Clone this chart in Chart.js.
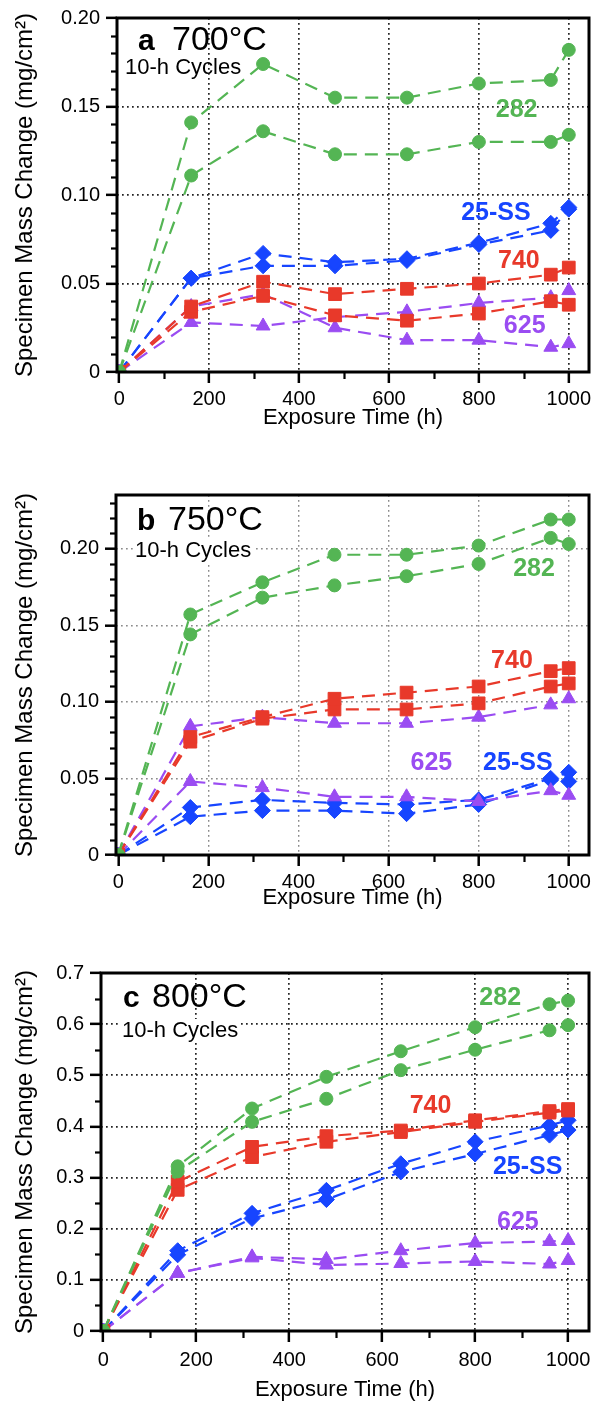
<!DOCTYPE html>
<html lang="en">
<head>
    <meta charset="UTF-8">
    <title>Specimen Mass Change vs Exposure Time</title>
    <script src="https://cdn.jsdelivr.net/npm/chart.js"></script>
    <style>
        body {
            margin: 0;
            background: #fff;
        }
        canvas {
            position: absolute;
            left: 0;
        }
    </style>
</head>
<body>
    <canvas id="chartA" width="599" height="440" style="top:0"></canvas>
    <canvas id="chartB" width="599" height="460" style="top:460px"></canvas>
    <canvas id="chartC" width="599" height="470" style="top:940px"></canvas>

    <script>
        // Exposure times (h) and axis ticks
        const hours = [0, 160, 320, 480, 640, 800, 960, 1000];
        const xTicks = [0, 200, 400, 600, 800, 1000];
        const yTicksA = [0, 0.05, 0.10, 0.15, 0.20];
        const yTicksB = [0, 0.05, 0.10, 0.15, 0.20];
        const yTicksC = [0, 0.1, 0.2, 0.3, 0.4, 0.5, 0.6, 0.7];

        // 700°C (mg/cm2), two specimens per alloy
        const a282_1 = [0, 0.141, 0.174, 0.155, 0.155, 0.163, 0.165, 0.182];
        const a282_2 = [0, 0.111, 0.136, 0.123, 0.123, 0.130, 0.130, 0.134];
        const a25ss_1 = [0, 0.053, 0.067, 0.062, 0.064, 0.073, 0.084, 0.093];
        const a25ss_2 = [0, 0.053, 0.060, 0.060, 0.063, 0.072, 0.080, 0.092];
        const a740_1 = [0, 0.037, 0.051, 0.044, 0.047, 0.050, 0.055, 0.059];
        const a740_2 = [0, 0.034, 0.043, 0.032, 0.029, 0.033, 0.040, 0.038];
        const a625_1 = [0, 0.028, 0.026, 0.031, 0.034, 0.039, 0.042, 0.046];
        const a625_2 = [0, 0.037, 0.044, 0.025, 0.018, 0.018, 0.014, 0.016];

        // 750°C
        const b282_1 = [0, 0.157, 0.178, 0.196, 0.196, 0.202, 0.219, 0.219];
        const b282_2 = [0, 0.144, 0.168, 0.176, 0.182, 0.190, 0.207, 0.203];
        const b740_1 = [0, 0.077, 0.090, 0.102, 0.106, 0.110, 0.120, 0.122];
        const b740_2 = [0, 0.074, 0.089, 0.095, 0.095, 0.099, 0.110, 0.112];
        const b625_1 = [0, 0.084, 0.090, 0.086, 0.086, 0.090, 0.098, 0.102];
        const b625_2 = [0, 0.048, 0.044, 0.038, 0.038, 0.035, 0.042, 0.039];
        const b25ss_1 = [0, 0.031, 0.036, 0.034, 0.033, 0.036, 0.050, 0.054];
        const b25ss_2 = [0, 0.025, 0.029, 0.029, 0.027, 0.033, 0.049, 0.048];

        // 800°C
        const c282_1 = [0, 0.322, 0.435, 0.497, 0.547, 0.594, 0.639, 0.646];
        const c282_2 = [0, 0.312, 0.409, 0.454, 0.510, 0.550, 0.588, 0.598];
        const c740_1 = [0, 0.292, 0.360, 0.381, 0.392, 0.412, 0.430, 0.434];
        const c740_2 = [0, 0.276, 0.340, 0.370, 0.389, 0.409, 0.427, 0.431];
        const c25ss_1 = [0, 0.157, 0.230, 0.275, 0.327, 0.370, 0.402, 0.412];
        const c25ss_2 = [0, 0.149, 0.220, 0.257, 0.311, 0.346, 0.383, 0.393];
        const c625_1 = [0, 0.113, 0.145, 0.140, 0.157, 0.172, 0.175, 0.177];
        const c625_2 = [0, 0.113, 0.143, 0.129, 0.132, 0.136, 0.131, 0.138];

        const FONT = "'Liberation Sans', Arial, Helvetica, sans-serif";
        Chart.defaults.font.family = FONT;
        Chart.defaults.color = '#000';

        // lower order = drawn on top
        const alloyStyle = {
            '282':   { color: '#54b554', point: 'circle',   radius: 6.5, order: 0 },
            '740':   { color: '#e8392a', point: 'rect',     radius: 9,   order: 1 },
            '625':   { color: '#9a4cf2', point: 'triangle', radius: 8,   order: 2 },
            '25-SS': { color: '#1745ff', point: 'rectRot',  radius: 8,   order: 3 }
        };

        function isMajor(v, list) {
            return list.some(t => Math.abs(t - v) < 1e-9);
        }

        function makePanel(canvasId, cfg) {
            const decor = {
                id: 'decor',
                afterDatasetsDraw(chart) {
                    const { ctx, chartArea: a } = chart;
                    const xs = chart.scales.x;
                    const ys = chart.scales.y;
                    ctx.save();
                    ctx.strokeStyle = '#000';

                    // short minor ticks
                    ctx.lineWidth = 2.2;
                    for (let i = 1; i * cfg.yMinor < ys.max + 1e-9; i++) {
                        const v = i * cfg.yMinor;
                        if (isMajor(v, cfg.yTicks)) continue;
                        const py = Math.round(ys.getPixelForValue(v)) + 0.5;
                        ctx.beginPath();
                        ctx.moveTo(a.left - 6, py);
                        ctx.lineTo(a.left, py);
                        ctx.stroke();
                    }
                    for (let v = 100; v < 1000; v += 200) {
                        const px = Math.round(xs.getPixelForValue(v)) + 0.5;
                        ctx.beginPath();
                        ctx.moveTo(px, a.bottom);
                        ctx.lineTo(px, a.bottom + 7);
                        ctx.stroke();
                    }

                    // frame round the plot
                    ctx.lineWidth = 3;
                    ctx.strokeRect(a.left, a.top, a.right - a.left, a.bottom - a.top);

                    // panel heading
                    const h = cfg.header;
                    ctx.textAlign = 'left';
                    ctx.textBaseline = 'alphabetic';
                    ctx.font = '22px ' + FONT;
                    if (h.cyclesBg) {
                        const w = ctx.measureText('10-h Cycles').width;
                        ctx.fillStyle = '#fff';
                        ctx.fillRect(a.left + h.cyclesX - 2, a.top + h.cyclesY - 18, w + 4, 23);
                    }
                    ctx.fillStyle = '#000';
                    ctx.fillText('10-h Cycles', a.left + h.cyclesX, a.top + h.cyclesY);
                    ctx.font = 'bold 30px ' + FONT;
                    ctx.fillText(cfg.letter, a.left + h.letterX, a.top + h.baseY);
                    ctx.font = '34px ' + FONT;
                    ctx.fillText(cfg.temp, a.left + h.tempX, a.top + h.baseY);

                    // alloy names
                    ctx.font = 'bold 25px ' + FONT;
                    ctx.textAlign = 'center';
                    ctx.textBaseline = 'middle';
                    cfg.labels.forEach(l => {
                        ctx.fillStyle = alloyStyle[l.alloy].color;
                        ctx.fillText(l.alloy, xs.getPixelForValue(l.x), ys.getPixelForValue(l.y));
                    });
                    ctx.restore();
                }
            };

            const datasets = cfg.series.map(s => {
                const st = alloyStyle[s.alloy];
                return {
                    label: s.alloy,
                    data: hours.map((t, i) => ({ x: t, y: s.values[i] })),
                    borderColor: st.color,
                    backgroundColor: st.color,
                    pointBackgroundColor: st.color,
                    pointBorderColor: st.color,
                    pointBorderWidth: 1,
                    pointStyle: st.point,
                    pointRadius: st.radius,
                    borderWidth: 2.2,
                    borderDash: [13, 8],
                    order: st.order,
                    tension: 0,
                    fill: false
                };
            });

            const gridColor = c => (c.tick && c.tick.value > 0) ? cfg.gridColor : 'rgba(0,0,0,0)';

            return new Chart(document.getElementById(canvasId), {
                type: 'line',
                data: { datasets },
                plugins: [decor],
                options: {
                    responsive: false,
                    animation: false,
                    layout: { padding: { top: cfg.top, right: 2, left: 0, bottom: 0 } },
                    plugins: {
                        legend: { display: false },
                        tooltip: { enabled: false }
                    },
                    scales: {
                        x: {
                            type: 'linear',
                            min: -5,
                            max: 1045,
                            afterBuildTicks: s => { s.ticks = xTicks.map(v => ({ value: v })); },
                            afterFit: s => { s.height = cfg.xAxisHeight; },
                            border: { display: false, dash: [1.7, 3.3] },
                            grid: {
                                color: gridColor,
                                lineWidth: cfg.gridWidth,
                                tickLength: 11,
                                tickWidth: 2.5,
                                tickColor: '#000'
                            },
                            ticks: {
                                font: { size: 20 },
                                padding: cfg.xLabelPad,
                                maxRotation: 0,
                                autoSkip: false,
                                callback: v => String(v)
                            },
                            title: {
                                display: true,
                                text: 'Exposure Time (h)',
                                font: { size: 22 },
                                padding: { top: 0, bottom: cfg.xTitlePad }
                            }
                        },
                        y: {
                            min: 0,
                            max: cfg.yMax,
                            afterBuildTicks: s => { s.ticks = cfg.yTicks.map(v => ({ value: v })); },
                            afterFit: s => { s.width = cfg.left; },
                            border: { display: false, dash: [1.7, 3.3] },
                            grid: {
                                color: gridColor,
                                lineWidth: cfg.gridWidth,
                                tickLength: 11,
                                tickWidth: 2.5,
                                tickColor: '#000'
                            },
                            ticks: {
                                font: { size: 20 },
                                padding: 6,
                                callback: v => v === 0 ? '0' : v.toFixed(cfg.decimals)
                            },
                            title: {
                                display: true,
                                text: 'Specimen Mass Change (mg/cm²)',
                                font: { size: 24 },
                                padding: { top: 11, bottom: 0 }
                            }
                        }
                    }
                }
            });
        }

        makePanel('chartA', {
            letter: 'a', temp: '700°C',
            series: [
                { alloy: '282', values: a282_1 }, { alloy: '282', values: a282_2 },
                { alloy: '25-SS', values: a25ss_1 }, { alloy: '25-SS', values: a25ss_2 },
                { alloy: '740', values: a740_1 }, { alloy: '740', values: a740_2 },
                { alloy: '625', values: a625_1 }, { alloy: '625', values: a625_2 }
            ],
            labels: [
                { alloy: '282', x: 884, y: 0.148 },
                { alloy: '25-SS', x: 838, y: 0.0896 },
                { alloy: '740', x: 889, y: 0.0627 },
                { alloy: '625', x: 902, y: 0.026 }
            ],
            yMax: 0.20, yTicks: yTicksA, yMinor: 0.01, decimals: 2,
            left: 117, top: 15, xAxisHeight: 68, xLabelPad: 4, xTitlePad: 9,
            gridColor: '#222', gridWidth: 1.7,
            header: { letterX: 21, tempX: 55, baseY: 32, cyclesX: 8, cyclesY: 56, cyclesBg: false }
        });

        makePanel('chartB', {
            letter: 'b', temp: '750°C',
            series: [
                { alloy: '282', values: b282_1 }, { alloy: '282', values: b282_2 },
                { alloy: '740', values: b740_1 }, { alloy: '740', values: b740_2 },
                { alloy: '625', values: b625_1 }, { alloy: '625', values: b625_2 },
                { alloy: '25-SS', values: b25ss_1 }, { alloy: '25-SS', values: b25ss_2 }
            ],
            labels: [
                { alloy: '282', x: 923, y: 0.1867 },
                { alloy: '740', x: 874, y: 0.1266 },
                { alloy: '625', x: 695, y: 0.060 },
                { alloy: '25-SS', x: 887, y: 0.060 }
            ],
            yMax: 0.235, yTicks: yTicksB, yMinor: 0.01, decimals: 2,
            left: 116, top: 35, xAxisHeight: 65, xLabelPad: 4, xTitlePad: 9,
            gridColor: '#8a8a8a', gridWidth: 1.4,
            header: { letterX: 21, tempX: 52, baseY: 35, cyclesX: 19, cyclesY: 62, cyclesBg: true }
        });

        makePanel('chartC', {
            letter: 'c', temp: '800°C',
            series: [
                { alloy: '282', values: c282_1 }, { alloy: '282', values: c282_2 },
                { alloy: '740', values: c740_1 }, { alloy: '740', values: c740_2 },
                { alloy: '25-SS', values: c25ss_1 }, { alloy: '25-SS', values: c25ss_2 },
                { alloy: '625', values: c625_1 }, { alloy: '625', values: c625_2 }
            ],
            labels: [
                { alloy: '282', x: 854, y: 0.651 },
                { alloy: '740', x: 704, y: 0.439 },
                { alloy: '25-SS', x: 913, y: 0.321 },
                { alloy: '625', x: 892, y: 0.213 }
            ],
            yMax: 0.7, yTicks: yTicksC, yMinor: 0.05, decimals: 1,
            left: 101, top: 33, xAxisHeight: 79, xLabelPad: 6, xTitlePad: 7,
            gridColor: '#222', gridWidth: 1.7,
            header: { letterX: 22, tempX: 51, baseY: 34, cyclesX: 21, cyclesY: 64, cyclesBg: true }
        });
    </script>
</body>
</html>
